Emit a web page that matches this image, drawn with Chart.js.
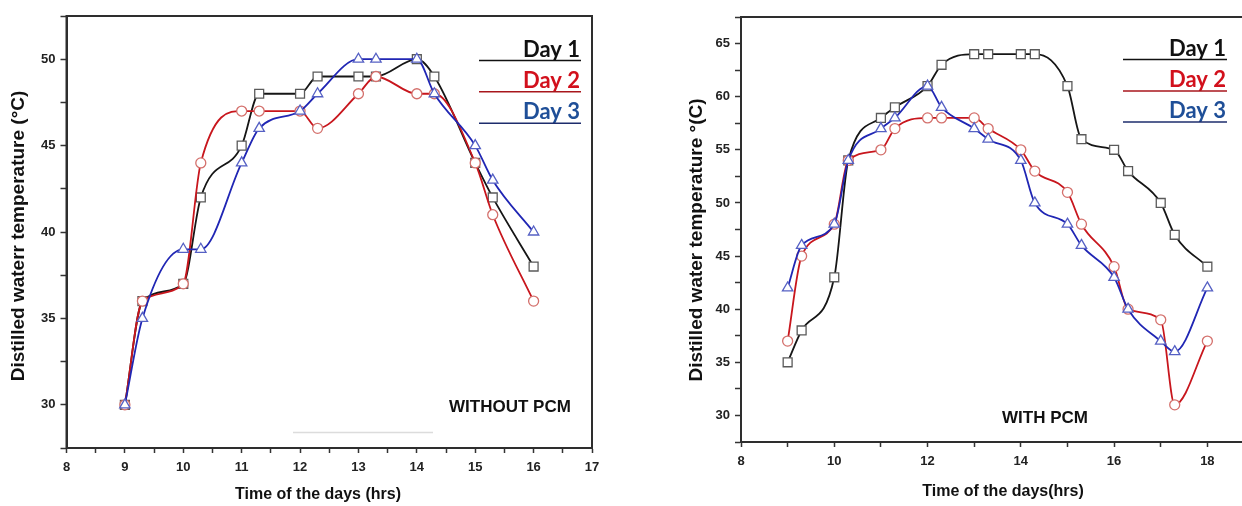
<!DOCTYPE html>
<html><head><meta charset="utf-8">
<script src="https://cdn.jsdelivr.net/npm/chart.js@4.4.1/dist/chart.umd.min.js"></script>
<style>
html,body{margin:0;padding:0;background:#fff;overflow:hidden;width:1242px;height:506px;position:relative;}
#w1{position:absolute;left:0;top:0;width:620px;height:506px;}
#w2{position:absolute;left:620px;top:0;width:660px;height:506px;}
</style></head><body>
<div id="w1"><canvas id="c1" width="620" height="506"></canvas></div>
<div id="w2"><canvas id="c2" width="660" height="506"></canvas></div>
<script>
// ---------- data ----------
const seriesNames = ['Day 1', 'Day 2', 'Day 3'];

// WITHOUT PCM
const timesA = [9, 9.3, 10, 10.3, 11, 11.3, 12, 12.3, 13, 13.3, 14, 14.3, 15, 15.3, 16];
const day1A  = [30, 36, 37, 42, 45, 48, 48, 49, 49, 49, 50, 49, 44, 42, 38];
const day2A  = [30, 36, 37, 44, 47, 47, 47, 46, 48, 49, 48, 48, 44, 41, 36];
const day3A  = [30, 35, 39, 39, 44, 46, 47, 48, 50, 50, 50, 48, 45, 43, 40];

// WITH PCM
const timesB = [9, 9.3, 10, 10.3, 11, 11.3, 12, 12.3, 13, 13.3, 14, 14.3, 15, 15.3, 16, 16.3, 17, 17.3, 18];
const day1B  = [35, 38, 43, 54, 58, 59, 61, 63, 64, 64, 64, 64, 61, 56, 55, 53, 50, 47, 44];
const day2B  = [37, 45, 48, 54, 55, 57, 58, 58, 58, 57, 55, 53, 51, 48, 44, 40, 39, 31, 37];
const day3B  = [42, 46, 48, 54, 57, 58, 61, 59, 57, 56, 54, 50, 48, 46, 43, 40, 37, 36, 42];

// tick labels
const xMajorA = [8, 9, 10, 11, 12, 13, 14, 15, 16, 17];
const xAllA   = [8, 8.5, 9, 9.5, 10, 10.5, 11, 11.5, 12, 12.5, 13, 13.5, 14, 14.5, 15, 15.5, 16, 16.5, 17];
const yMajorA = [30, 35, 40, 45, 50];
const yAllA   = [27.5, 30, 32.5, 35, 37.5, 40, 42.5, 45, 47.5, 50, 52.5];
const xMajorB = [8, 10, 12, 14, 16, 18];
const xAllB   = [8, 9, 10, 11, 12, 13, 14, 15, 16, 17, 18, 19];
const yMajorB = [30, 35, 40, 45, 50, 55, 60, 65];
const yAllB   = [27.5, 30, 32.5, 35, 37.5, 40, 42.5, 45, 47.5, 50, 52.5, 55, 57.5, 60, 62.5, 65, 67.5];

// ---------- styles ----------
const lineColors   = ['#161616', '#c8161d', '#2026b4'];
const markerColors = ['#5a5a5a', '#d4706c', '#5560c4'];
const markerStyles = ['rect', 'circle', 'triangle'];
const markerRadii  = [6.3, 5, 6];
const legendText   = ['#111111', '#d2101c', '#1f4f98'];
const legendLine   = ['#111111', '#a8161c', '#1d2c6c'];
const tickFont = {family: "'Liberation Sans', Arial, sans-serif", size: 13, weight: 'bold'};

function makeSets(xs, sets) {
  return sets.map((ys, i) => ({
    label: seriesNames[i],
    data: xs.map((x, j) => ({x: x, y: ys[j]})),
    borderColor: lineColors[i],
    borderWidth: 1.8,
    cubicInterpolationMode: 'monotone',
    fill: false,
    pointStyle: markerStyles[i],
    pointRadius: markerRadii[i],
    pointBorderColor: markerColors[i],
    pointBackgroundColor: '#ffffff',
    pointBorderWidth: 1.3,
    order: 3 - i
  }));
}

const decor = {
  id: 'decor',
  afterDraw(chart, args, o) {
    const ctx = chart.ctx, a = chart.chartArea;
    ctx.save();
    ctx.strokeStyle = '#2e2e2e'; ctx.lineWidth = 2;
    ctx.strokeRect(a.left, a.top, a.right - a.left, a.bottom - a.top);
    if (o.faint) {
      ctx.strokeStyle = '#dcdcdc'; ctx.lineWidth = 1.5;
      ctx.beginPath(); ctx.moveTo(o.faint[0], o.faint[2]); ctx.lineTo(o.faint[1], o.faint[2]); ctx.stroke();
    }
    // legend
    ctx.font = 'bold ' + o.legendSize + "px Lato, 'Open Sans', sans-serif";
    ctx.textAlign = 'right'; ctx.textBaseline = 'alphabetic';
    o.legendY.forEach((ly, i) => {
      ctx.fillStyle = legendText[i];
      ctx.fillText(seriesNames[i], o.legendX1 - 1, ly - 4);
      ctx.strokeStyle = legendLine[i]; ctx.lineWidth = 1.6;
      ctx.beginPath(); ctx.moveTo(o.legendX0, ly); ctx.lineTo(o.legendX1, ly); ctx.stroke();
    });
    // note
    ctx.fillStyle = '#111';
    ctx.font = "bold 17px 'Liberation Sans', Arial, sans-serif";
    ctx.textAlign = 'left';
    ctx.fillText(o.note, o.noteX, o.noteY);
    // axis titles
    ctx.font = "bold 16px 'Liberation Sans', Arial, sans-serif";
    ctx.textAlign = 'center'; ctx.textBaseline = 'middle';
    ctx.fillText(o.xTitle, o.xTitleX, o.xTitleY);
    ctx.save();
    ctx.translate(o.yTitleX, o.yTitleY);
    ctx.rotate(-Math.PI / 2);
    ctx.font = "bold 19px 'Liberation Sans', Arial, sans-serif";
    ctx.fillText(o.yTitle, 0, 0);
    ctx.restore();
    ctx.restore();
  }
};

function axisX(min, max, all, majors, height) {
  return {
    type: 'linear', min: min, max: max,
    afterBuildTicks: ax => { ax.ticks = all.map(v => ({value: v})); },
    afterFit: ax => { ax.height = height; },
    ticks: {autoSkip: false, maxRotation: 0, color: '#222', font: tickFont, padding: 7,
            callback: v => majors.includes(v) ? String(v) : ''},
    grid: {drawOnChartArea: false, drawTicks: true, tickLength: 5, tickColor: '#333', tickWidth: 1.5},
    border: {display: true, color: '#2e2e2e', width: 2},
    title: {display: false}
  };
}
function axisY(min, max, all, majors, width) {
  return {
    type: 'linear', min: min, max: max,
    afterBuildTicks: ax => { ax.ticks = all.map(v => ({value: v})); },
    afterFit: ax => { ax.width = width; },
    ticks: {autoSkip: false, color: '#222', font: tickFont, padding: 5,
            callback: v => majors.includes(v) ? String(v) : ''},
    grid: {drawOnChartArea: false, drawTicks: true, tickLength: 6, tickColor: '#333', tickWidth: 1.5},
    border: {display: true, color: '#2e2e2e', width: 2},
    title: {display: false}
  };
}

function makeChart(id, xs, sets, cfg) {
  return new Chart(document.getElementById(id), {
    type: 'line',
    data: {datasets: makeSets(xs, sets)},
    options: {
      responsive: false, animation: false, devicePixelRatio: 1,
      layout: {padding: cfg.padding},
      plugins: {legend: {display: false}, tooltip: {enabled: false}, decor: cfg.decor},
      scales: {x: axisX(cfg.xMin, cfg.xMax, cfg.xAll, cfg.xMajor, cfg.xH),
               y: axisY(cfg.yMin, cfg.yMax, cfg.yAll, cfg.yMajor, cfg.yW)}
    },
    plugins: [decor]
  });
}

makeChart('c1', timesA, [day1A, day2A, day3A], {
  padding: {left: 4, right: 28, top: 16, bottom: 0},
  xMin: 8, xMax: 17, xAll: xAllA, xMajor: xMajorA, xH: 58,
  yMin: 27.5, yMax: 52.5, yAll: yAllA, yMajor: yMajorA, yW: 62.5,
  decor: {legendX0: 479, legendX1: 581, legendY: [60.5, 91.7, 123.3], legendSize: 22,
          note: 'WITHOUT PCM', noteX: 449, noteY: 411.5,
          faint: [293, 433, 432.5],
          xTitle: 'Time of the days (hrs)', xTitleX: 318, xTitleY: 495,
          yTitle: 'Distilled waterr temperature (°C)', yTitleX: 19, yTitleY: 236}
});

makeChart('c2', timesB, [day1B, day2B, day3B], {
  padding: {left: 60, right: 26, top: 17, bottom: 0},
  xMin: 8, xMax: 19, xAll: xAllB, xMajor: xMajorB, xH: 64,
  yMin: 27.5, yMax: 67.5, yAll: yAllB, yMajor: yMajorB, yW: 61,
  decor: {legendX0: 503, legendX1: 607, legendY: [59.5, 91, 122], legendSize: 22,
          note: 'WITH PCM', noteX: 382, noteY: 422.5,
          xTitle: 'Time of the days(hrs)', xTitleX: 383, xTitleY: 492,
          yTitle: 'Distilled water temperature °(C)', yTitleX: 77, yTitleY: 240}
});
</script>
</body></html>
